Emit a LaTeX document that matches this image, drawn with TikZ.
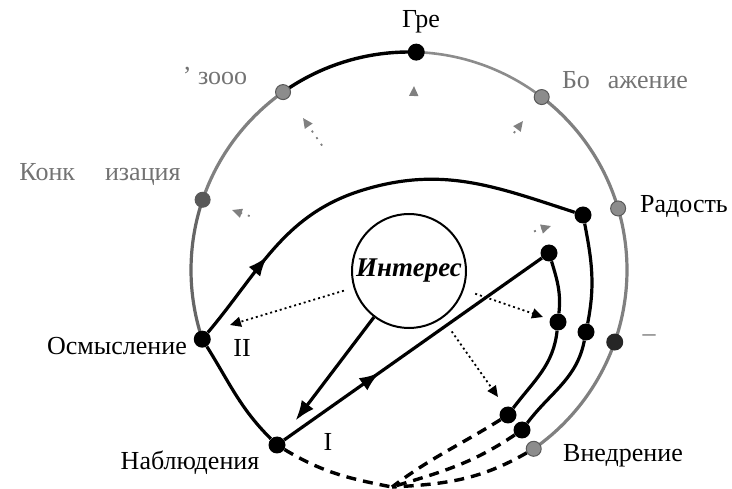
\documentclass[tikz,border=0pt]{standalone}
\usepackage{fontspec}
\setmainfont{Liberation Serif}
\usetikzlibrary{arrows.meta,calc,decorations.markings}
\begin{document}
\begin{tikzpicture}[x=1pt,y=-1pt,
  lbl/.style={font=\fontsize{26}{28}\selectfont, inner sep=0pt},
  flbl/.style={lbl, text=black!55},
  bdot/.style={circle,fill=black,minimum size=17pt,inner sep=0pt},
  gdot/.style={circle,fill=black!45,draw=black!65,line width=1pt,minimum size=15pt,inner sep=0pt},
  heavy/.style={line width=3.2pt},
  bigtip/.style={-{Latex[length=20pt,width=15pt]}},
  dashline/.style={line width=3.4pt, dash pattern=on 10pt off 7pt},
  darr/.style={line width=1.8pt, dash pattern=on 2pt off 3pt, -{Triangle[length=11pt,width=10pt]}},
  farr/.style={line width=1.8pt, black!50, dash pattern=on 2pt off 6pt, -{Triangle[length=10pt,width=9pt]}},
  outer/.style={line width=3.2pt, black!50}
]
\useasboundingbox (0,0) rectangle (732,489);
\coordinate (O) at (409,270);

% outer circle arc
\draw[outer, black!60] ($(O)+(161.5:218)$) arc[start angle=161.5, end angle=198.8, radius=218];
\draw[outer] ($(O)+(198.8:218)$) arc[start angle=198.8, end angle=234.7, radius=218];
\draw[line width=3.4pt, black] ($(O)+(234.7:218)$) arc[start angle=234.7, end angle=271.9, radius=218];
\draw[outer, black!45, line width=2.6pt] ($(O)+(271.9:218)$) arc[start angle=271.9, end angle=307.5, radius=218];
\draw[outer] ($(O)+(307.5:218)$) arc[start angle=307.5, end angle=415.1, radius=218];

% nodes on outer circle
\node[bdot] (osm) at ($(O)+(161.5:218)$) {};
\node[gdot, fill=black!65] (konc) at ($(O)+(198.8:218)$) {};
\node[gdot] (svob) at ($(O)+(234.7:218)$) {};
\node[bdot] (top) at ($(O)+(271.9:218)$) {};
\node[gdot] (voob) at ($(O)+(307.5:218)$) {};
\node[gdot] (rad) at ($(O)+(343.6:218)$) {};
\node[bdot, fill=black!85] (rblk) at ($(O)+(379.3:218)$) {};
\node[gdot] (vned) at ($(O)+(415.1:218)$) {};

% interest circle
\node[circle, draw, line width=2pt, minimum size=114pt, inner sep=0pt,
      font=\fontsize{27}{29}\selectfont\bfseries\itshape] (int) at (409,271) {Интерес};

% inner dots
\node[bdot] (nab) at (277,445) {};
\node[bdot] (p0) at (583,215) {};
\node[bdot] (p1) at (549,253) {};
\node[bdot] (p2) at (558,322) {};
\node[bdot] (p3) at (586,332) {};
\node[bdot] (p4) at (508,415) {};
\node[bdot] (p5) at (522,430) {};
\coordinate (m1) at (363,190);
\coordinate (B) at (392,487);

% solid heavy curves
\draw[heavy, postaction={decorate}, decoration={markings, mark=at position 0.45 with {\arrow{Latex[length=20pt,width=15pt]}}}]
  (osm) to[out=50,in=-163] (m1);
\draw[heavy] (m1) to[out=17,in=162] (p0);
\draw[heavy] (p0) to[out=-79,in=79] (p3) to[out=-101,in=53] (p5);
\draw[heavy] (p1) to[out=-73,in=84] (p2) to[out=-96,in=53] (p4);
\draw[heavy] (osm) to[out=-58,in=135] (nab);
\draw[heavy, postaction={decorate}, decoration={markings, mark=at position 0.37 with {\arrow{Latex[length=20pt,width=15pt]}}}]
  (nab) -- (p1);
\draw[heavy, bigtip, shorten >=22pt] (int) -- (nab);

% dashed curves
\draw[dashline] (nab) to[out=-31,in=169] (B);
\draw[dashline] (p4) to[out=-148,in=37] (B);
\draw[dashline] (p5) to[out=-146,in=17] (B);
\draw[dashline] (vned) to[out=-150,in=3] (B);

% dotted arrows (lower)
\coordinate (d1) at (230,325);
\coordinate (d2) at (543,317);
\coordinate (d3) at (498,397);
\draw[darr, shorten <=10pt] (int) -- (d1);
\draw[darr, shorten <=12pt] (int) -- (d2);
\draw[darr, shorten <=16pt] (int) -- (d3);

% faint dotted arrows (upper)
\coordinate (t1) at (232,210);
\coordinate (t2) at (303,118);
\coordinate (t3) at (414,86);
\coordinate (t4) at (523,121);
\coordinate (t5) at (551,226);
\draw[farr] ($(int.center)!0.9!(t1)$) -- (t1);
\draw[farr] ($(int.center)!0.82!(t2)$) -- (t2);
\draw[farr] ($(int.center)!0.95!(t3)$) -- (t3);
\draw[farr] ($(int.center)!0.92!(t4)$) -- (t4);
\draw[farr] ($(int.center)!0.88!(t5)$) -- (t5);

% labels
\node[lbl, anchor=east] (losm) at (187,346) {Осмысление};
\node[lbl] (lnab) at (190,463) {Наблюдения};
\node[lbl] (lvned) at (623,456) {Внедрение};
\node[lbl] (lrad) at (684,207) {Радость};
\node[lbl] (lII) at (242,348) {II};
\node[lbl] (lI) at (328,442) {I};
\node[lbl] (ltop) at (421,22) {Гре};
\node[flbl] (lsvob) at (215,76) {ʼ зооо};
\node[flbl] (lkonc) at (100,175) {Конк\hspace{30pt}изация};
\node[flbl] (lvoob) at (625,80) {Бо\hspace{18pt}ажение};
\node[flbl] (ldash) at (649,338) {–};
\end{tikzpicture}
\end{document}
